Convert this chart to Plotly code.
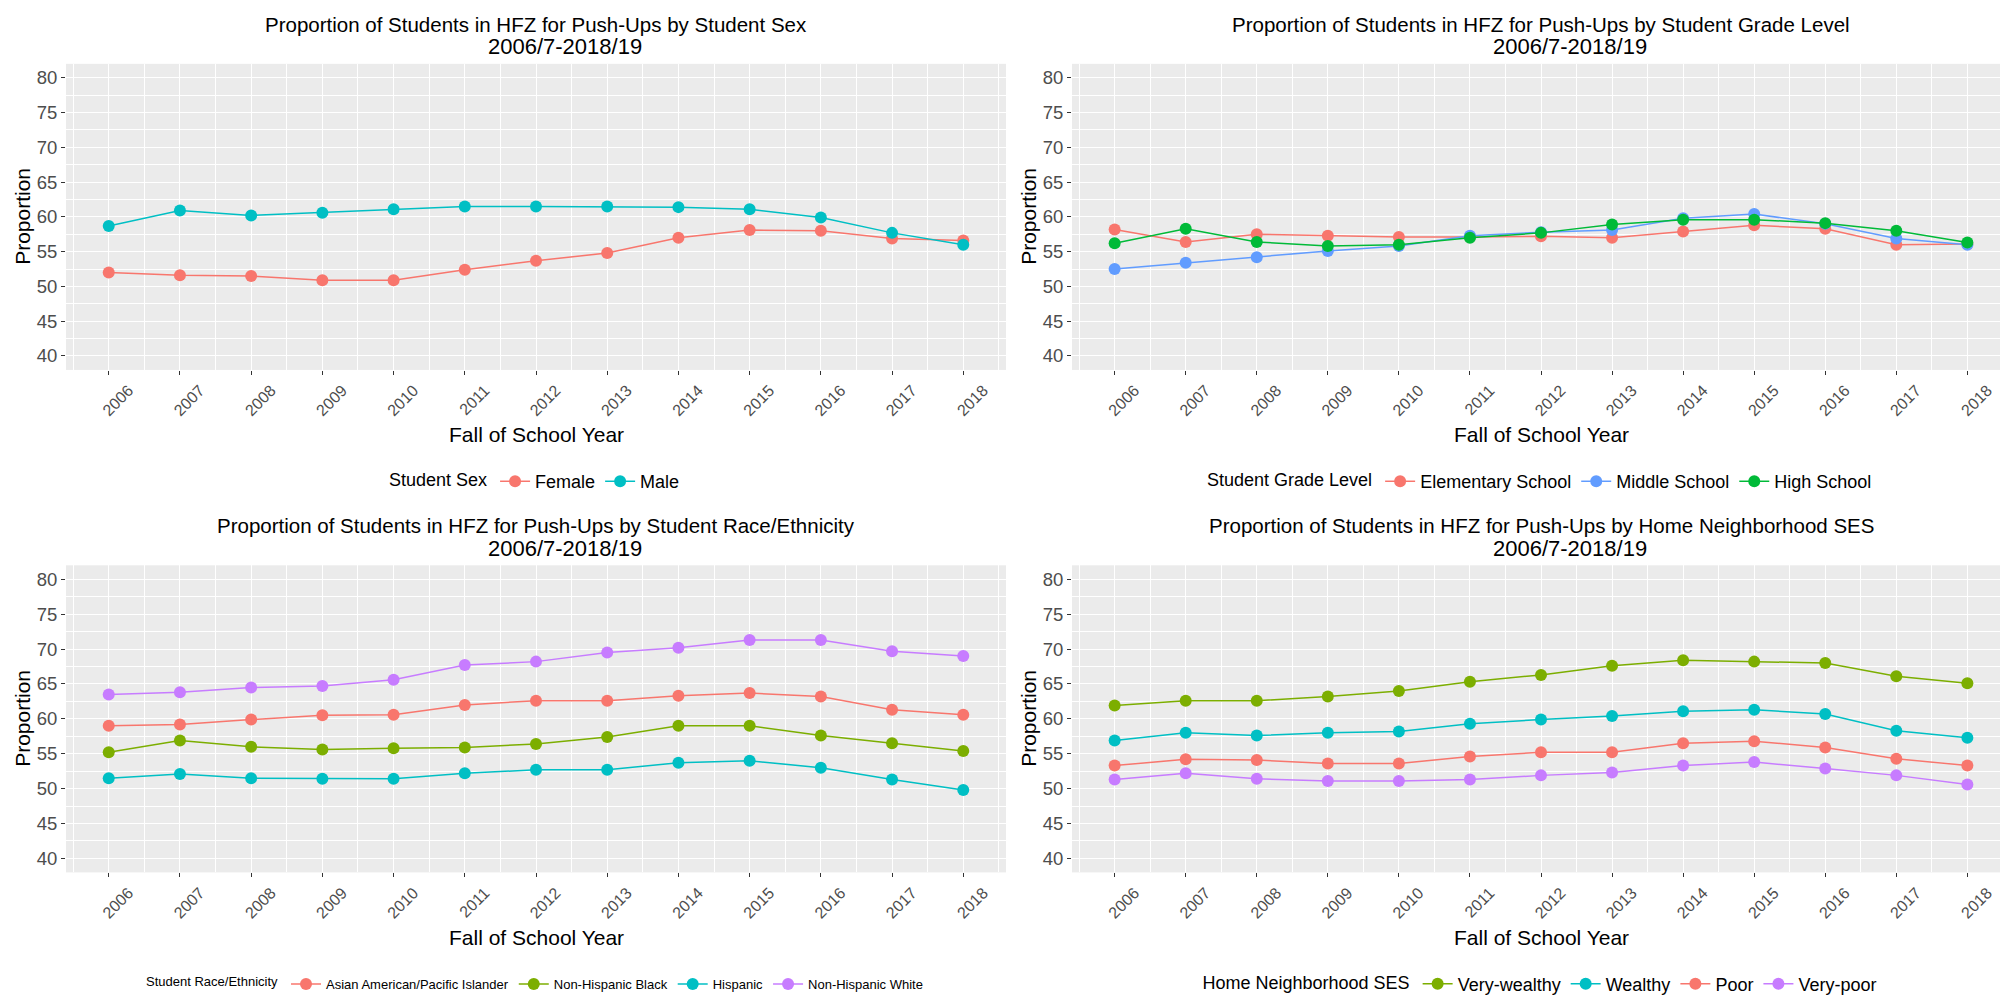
import plotly.graph_objects as go

# Fall of school year
years = list(range(2006, 2019))

# Push-ups HFZ proportion by student sex
sex_female = [52.0, 51.6, 51.5, 50.9, 50.9, 52.4, 53.7, 54.8, 57.0, 58.1, 58.0, 56.9, 56.6]
sex_male = [58.7, 60.9, 60.2, 60.6, 61.1, 61.5, 61.5, 61.5, 61.4, 61.1, 59.9, 57.7, 56.0]

# by grade level
grade_elem = [58.2, 56.4, 57.5, 57.3, 57.1, 57.1, 57.2, 57.0, 57.9, 58.8, 58.3, 56.0, 56.1]
grade_mid = [52.5, 53.4, 54.2, 55.1, 55.8, 57.3, 57.8, 58.1, 59.8, 60.4, 59.0, 56.9, 56.0]
grade_high = [56.2, 58.3, 56.4, 55.8, 56.0, 57.0, 57.7, 58.9, 59.6, 59.6, 59.1, 58.0, 56.3]

# by race/ethnicity
race_asian = [59.0, 59.2, 59.9, 60.5, 60.6, 62.0, 62.6, 62.6, 63.3, 63.7, 63.2, 61.3, 60.6]
race_black = [55.2, 56.9, 56.0, 55.6, 55.8, 55.9, 56.4, 57.4, 59.0, 59.0, 57.6, 56.5, 55.4]
race_hisp = [51.5, 52.1, 51.5, 51.4, 51.4, 52.2, 52.7, 52.7, 53.7, 54.0, 53.0, 51.3, 49.8]
race_white = [63.5, 63.8, 64.5, 64.7, 65.6, 67.7, 68.2, 69.5, 70.2, 71.3, 71.3, 69.7, 69.0]

# by home neighborhood SES
ses_vwealthy = [61.9, 62.6, 62.6, 63.2, 64.0, 65.3, 66.3, 67.6, 68.4, 68.2, 68.0, 66.1, 65.1]
ses_wealthy = [56.9, 58.0, 57.6, 58.0, 58.2, 59.3, 59.9, 60.4, 61.1, 61.3, 60.7, 58.3, 57.3]
ses_poor = [53.3, 54.2, 54.1, 53.6, 53.6, 54.6, 55.2, 55.2, 56.5, 56.8, 55.9, 54.3, 53.3]
ses_vpoor = [51.3, 52.2, 51.4, 51.1, 51.1, 51.3, 51.9, 52.3, 53.3, 53.8, 52.9, 51.9, 50.6]

y_ticks = [40, 45, 50, 55, 60, 65, 70, 75, 80]

RED, OLIVE, CYAN, PURPLE = "#F8766D", "#7CAE00", "#00BFC4", "#C77CFF"
GREEN, BLUE = "#00BA38", "#619CFF"
FONT = "Liberation Sans, Arial, sans-serif"
W, H = 2008, 995

panels = [
    # (legend id, title, legend title, series, legend font size)
    ("legend", "Proportion of Students in HFZ for Push-Ups by Student Sex",
     "Student Sex", [("Female", sex_female, RED), ("Male", sex_male, CYAN)], 18),
    ("legend2", "Proportion of Students in HFZ for Push-Ups by Student Grade Level",
     "Student Grade Level", [("Elementary School", grade_elem, RED),
                             ("Middle School", grade_mid, BLUE),
                             ("High School", grade_high, GREEN)], 18),
    ("legend3", "Proportion of Students in HFZ for Push-Ups by Student Race/Ethnicity",
     "Student Race/Ethnicity", [("Asian American/Pacific Islander", race_asian, RED),
                                ("Non-Hispanic Black", race_black, OLIVE),
                                ("Hispanic", race_hisp, CYAN),
                                ("Non-Hispanic White", race_white, PURPLE)], 13),
    ("legend4", "Proportion of Students in HFZ for Push-Ups by Home Neighborhood SES",
     "Home Neighborhood SES", [("Very-wealthy", ses_vwealthy, OLIVE),
                               ("Wealthy", ses_wealthy, CYAN),
                               ("Poor", ses_poor, RED),
                               ("Very-poor", ses_vpoor, PURPLE)], 18),
]
subtitle = "2006/7-2018/19"

# panel boxes in pixels: (left, right, top, bottom)
boxes = [(58, 998, 56, 363), (1064, 2002, 56, 363),
         (58, 998, 559, 867), (1064, 2002, 559, 867)]

fig = go.Figure()
layout = dict(annotations=[])


def note(text, px, py, size, **kw):
    return dict(text=text, x=px / W, y=1 - py / H, xref="paper", yref="paper",
                xanchor="center", yanchor="middle", showarrow=False,
                font=dict(size=size, color="black"), **kw)


for i, ((leg, title, leg_title, series, leg_size), (l, r, t, b)) in enumerate(zip(panels, boxes)):
    sfx = "" if i == 0 else str(i + 1)
    for name, vals, col in series:
        fig.add_trace(go.Scatter(
            x=years, y=vals, name=name, mode="lines+markers",
            line=dict(color=col, width=1.5),
            marker=dict(color=col, size=12),
            xaxis="x" + sfx, yaxis="y" + sfx, legend=leg,
        ))

    layout["xaxis" + sfx] = dict(
        domain=[l / W, r / W], anchor="y" + sfx, range=[2005.4, 2018.6],
        tickmode="array", tickvals=years, ticktext=[str(v) for v in years],
        tickangle=-45, ticklabelshift=20,
        tickfont=dict(size=16, color="#4D4D4D"),
        ticks="outside", ticklen=4, tickcolor="#333333",
        showgrid=True, gridcolor="white", gridwidth=1.2, zeroline=False,
        minor=dict(dtick=0.5, tick0=2005.5, showgrid=True,
                   gridcolor="white", gridwidth=0.6),
    )
    layout["yaxis" + sfx] = dict(
        domain=[1 - b / H, 1 - t / H], anchor="x" + sfx, range=[38, 82],
        tickmode="array", tickvals=y_ticks,
        tickfont=dict(size=18.5, color="#4D4D4D"),
        ticks="outside", ticklen=4, tickcolor="#333333",
        showgrid=True, gridcolor="white", gridwidth=1.2, zeroline=False,
        minor=dict(dtick=2.5, tick0=37.5, showgrid=True,
                   gridcolor="white", gridwidth=0.6),
    )

    cx = (l + r) / 2
    layout["annotations"] += [
        note(title, cx, t - 39.5, 20.5),
        note(subtitle, cx + 29, t - 17, 22),
        note("Fall of School Year", cx, b + 65, 21),
        note("Proportion", l - 43, (t + b) / 2, 21, textangle=-90),
    ]
    layout[leg] = dict(
        orientation="h", x=cx / W, xanchor="center",
        y=1 - (b + 112) / H, yanchor="middle",
        title=dict(text=leg_title, side="left", font=dict(size=leg_size, color="black")),
        font=dict(size=leg_size, color="black"), bgcolor="rgba(0,0,0,0)",
        itemwidth=30,
    )

fig.update_layout(
    width=W, height=H, margin=dict(l=0, r=0, t=0, b=0),
    paper_bgcolor="white", plot_bgcolor="#EBEBEB",
    font=dict(family=FONT, color="black"),
    showlegend=True,
    **layout,
)

fig.write_html("out.html")
